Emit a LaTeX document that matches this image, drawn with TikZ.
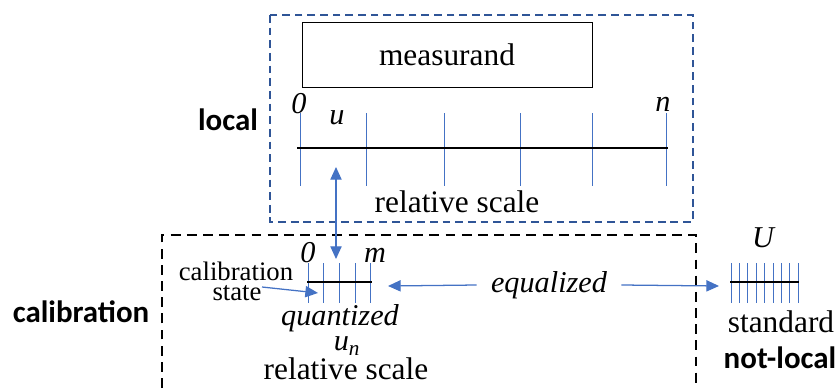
\documentclass[tikz,border=0pt]{standalone}
\usepackage{fontspec}
\setmainfont{Liberation Serif}
\setsansfont{Carlito}
\usetikzlibrary{arrows.meta}
\definecolor{tickblue}{HTML}{4472C4}
\definecolor{boxblue}{HTML}{2F5597}

\begin{document}
\begin{tikzpicture}[
    x=0.025cm, y=-0.025cm,
    txt/.style={inner sep=0pt, font=\fontsize{22.3}{25}\selectfont},
    ital/.style={inner sep=0pt, font=\fontsize{21.5}{24}\selectfont\itshape},
    small/.style={inner sep=0pt, font=\fontsize{19}{22}\selectfont},
    side/.style={inner sep=0pt, font=\fontsize{22}{26}\selectfont\sffamily\bfseries},
    scaletick/.style={tickblue, line width=0.6pt},
    scaleline/.style={black, line width=1.5pt},
    bluearrow/.style={tickblue, line width=0.9pt, -{Triangle[length=9pt,width=8pt]}}
]
    \useasboundingbox (0,0) rectangle (840,388);

    % Local region
    \draw[boxblue, line width=1.4pt, dash pattern=on 5.5pt off 3.5pt] (270,15) rectangle (693,222);
    \node[txt, draw, line width=0.6pt, minimum width=7.25cm, minimum height=1.625cm] (meas) at (447,55) {measurand};
    \foreach \x in {300,366,444,520,592,666} {
        \draw[scaletick] (\x,113) -- (\x,186);
    }
    \draw[scaleline] (297,148) -- (668,148);
    \node[ital] (zeroU) at (299,104) {0};
    \node[ital] (uU) at (337,118) {u};
    \node[ital] (nU) at (663,104) {n};
    \node[txt] (relU) at (457,202) {relative scale};
    \node[side] (local) at (228,120) {local};

    % Calibration region
    \draw[black, line width=2pt, dash pattern=on 7pt off 4.5pt] (162,388) -- (162,235) -- (696,235) -- (696,388);
    \foreach \x in {308,323,339,355,370} {
        \draw[scaletick] (\x,263) -- (\x,303);
    }
    \draw[scaleline] (307,282) -- (372,282);
    \node[ital] (zeroC) at (308,253) {0};
    \node[ital] (mC) at (375,255) {m};
    \node[small] (stateA) at (236,271) {calibration};
    \node[small] (stateB) at (237,293) {state};
    \node[ital] (quant) at (340,318) {quantized};
    \node[ital] (un) at (347,346) {u\textsubscript{n}};
    \node[txt] (relC) at (346,369) {relative scale};
    \node[side] (calib) at (81,312) {calibration};

    % Standard
    \foreach \i in {0,...,8} {
        \draw[scaletick] (731+\i*8.4,263) -- (731+\i*8.4,303);
    }
    \draw[scaleline] (730,282) -- (799,282);
    \node[ital] (UU) at (763,238) {U};
    \node[txt] (std) at (781,322) {standard};
    \node[side] (notlocal) at (780,358) {not-local};

    % Arrows
    \coordinate (upTip) at (336,167);
    \coordinate (downTip) at (336,259);
    \coordinate (stateFrom) at (262,287);
    \coordinate (stateTip) at (318,293);
    \coordinate (calTip) at (388,286);
    \coordinate (stdTip) at (719,286);
    \draw[bluearrow, {Triangle[length=9pt,width=8pt]}-{Triangle[length=9pt,width=8pt]}] (upTip) -- (downTip);
    \draw[bluearrow] (stateFrom) -- (stateTip);
    \node[ital, inner xsep=10pt] (eq) at (549,285) {equalized};
    \draw[bluearrow] (eq.west) -- (calTip);
    \draw[bluearrow] (eq.east) -- (stdTip);
\end{tikzpicture}
\end{document}
